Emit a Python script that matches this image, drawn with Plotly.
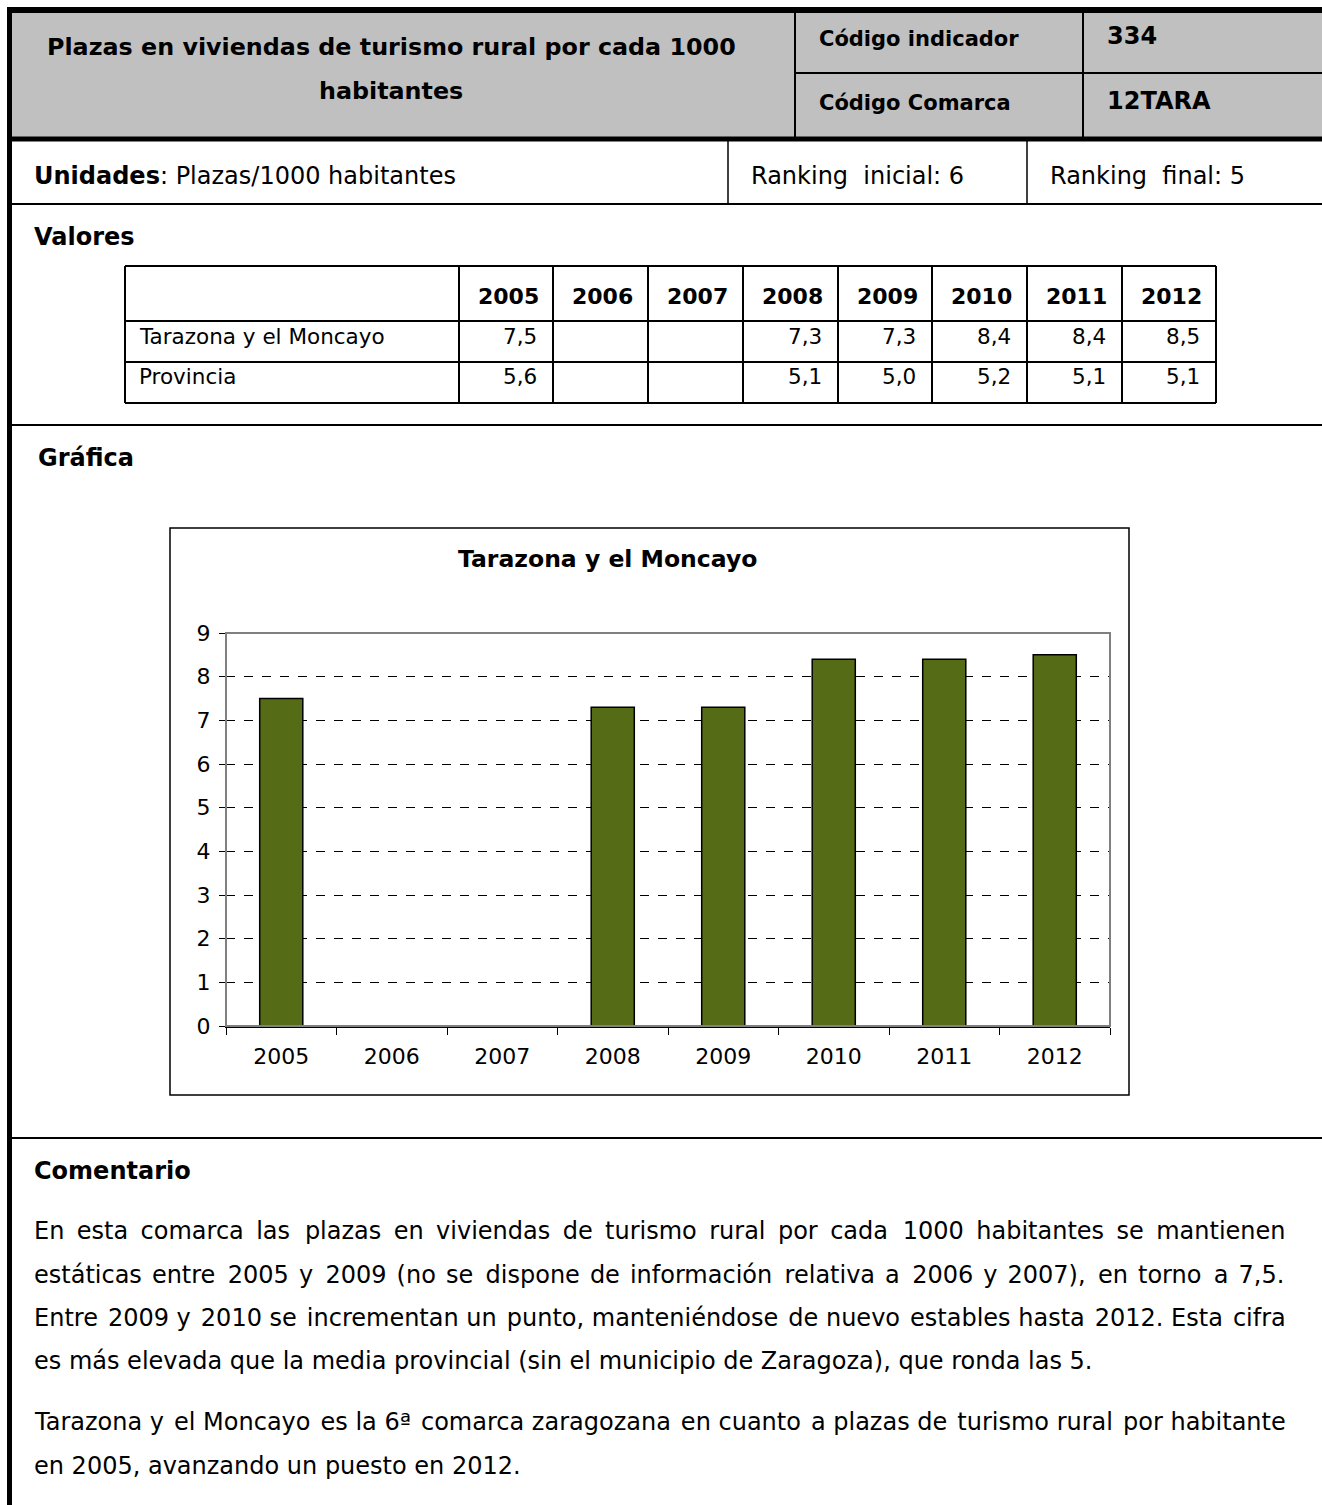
import plotly.graph_objects as go

# ficha del indicador
titulo = ["Plazas en viviendas de turismo rural por cada 1000", "habitantes"]
codigo_indicador = "334"
codigo_comarca = "12TARA"
unidades = "Plazas/1000 habitantes"
ranking_inicial = 6
ranking_final = 5

# valores
years = ["2005", "2006", "2007", "2008", "2009", "2010", "2011", "2012"]
tarazona = [7.5, None, None, 7.3, 7.3, 8.4, 8.4, 8.5]
provincia = [5.6, None, None, 5.1, 5.0, 5.2, 5.1, 5.1]
comarca = "Tarazona y el Moncayo"
y_ticks = [0, 1, 2, 3, 4, 5, 6, 7, 8, 9]

comentario = [
    "En esta comarca las plazas en viviendas de turismo rural por cada 1000 habitantes se mantienen",
    "estáticas entre 2005 y 2009 (no se dispone de información relativa a 2006 y 2007), en torno a 7,5.",
    "Entre 2009 y 2010 se incrementan un punto, manteniéndose de nuevo estables hasta 2012. Esta cifra",
    "es más elevada que la media provincial (sin el municipio de Zaragoza), que ronda las 5.",
    "Tarazona y el Moncayo es la 6ª comarca zaragozana en cuanto a plazas de turismo rural por habitante",
    "en 2005, avanzando un puesto en 2012.",
]
# espacio extra (px) para justificar cada línea
justify_extra = [76.8, 60, 19.2, 0, 16.8, 0]

W, H = 1322, 1505
FONT = "DejaVu Sans"
GRAY = "#C0C0C0"
BAR = "#556B15"
BODY = 24


def px(x):
    return x / W


def py(y):
    return 1 - y / H


shapes = []
annotations = []


def rect(x0, y0, x1, y1, fill=None, line_color=None, width=0, layer="below"):
    shapes.append(dict(
        type="rect", xref="paper", yref="paper",
        x0=px(x0), x1=px(x1), y0=py(y1), y1=py(y0),
        fillcolor=fill if fill else "rgba(0,0,0,0)",
        line=dict(color=line_color if line_color else "rgba(0,0,0,0)", width=width),
        layer=layer,
    ))


def line(x0, y0, x1, y1, width=2, color="black", layer="above"):
    shapes.append(dict(
        type="line", xref="paper", yref="paper",
        x0=px(x0), x1=px(x1), y0=py(y0), y1=py(y1),
        line=dict(color=color, width=width), layer=layer,
    ))


def text(x, y, s, size=BODY, anchor="left", bold=False, color="black"):
    if bold:
        s = "<b>" + s + "</b>"
    if anchor == "left":
        x -= 3  # compensa el relleno de la caja de la anotación
    annotations.append(dict(
        x=px(x), y=py(y), xref="paper", yref="paper", text=s,
        showarrow=False, xanchor=anchor, yanchor="middle",
        font=dict(family=FONT, size=size, color=color),
    ))


def justify(s, extra_px, size):
    # reparte espacios finos (hair space) entre las palabras
    words = s.split(" ")
    gaps = len(words) - 1
    n = round(extra_px / (0.1 * size))
    out = words[0]
    for j in range(gaps):
        k = round((j + 1) * n / gaps) - round(j * n / gaps)
        out += " " + "\u200a" * k + words[j + 1]
    return out


# cabecera
rect(12, 13, W + 5, 137, fill=GRAY)
line(7, 10, W + 5, 10, width=6)
line(9.5, 7, 9.5, H + 5, width=5)
line(795, 13, 795, 137, width=2)
line(1083, 13, 1083, 137, width=2)
line(795, 73, W + 5, 73, width=2)
line(12, 139, W + 5, 139, width=5)
text(391, 47, titulo[0], size=23.8, anchor="center", bold=True)
text(391, 91, titulo[1], size=23.8, anchor="center", bold=True)
text(820, 39, "Código indicador", size=21, bold=True)
text(1108, 36, codigo_indicador, size=24, bold=True)
text(820, 103, "Código Comarca", size=21, bold=True)
text(1108, 101, codigo_comarca, size=24, bold=True)

# unidades / ranking
line(728, 141, 728, 204, width=1.5)
line(1027, 141, 1027, 204, width=1.5)
line(12, 204, W + 5, 204, width=2)
text(35, 176, "<b>Unidades</b>: " + unidades)
text(752, 176, "Ranking&nbsp; inicial: %d" % ranking_inicial)
text(1051, 176, "Ranking&nbsp; final: %d" % ranking_final)

# tabla de valores
text(35, 237, "Valores", bold=True)
col_edges = [125, 459, 553, 648, 743, 838, 932, 1027, 1122, 1216]
row_edges = [266, 321, 362, 403]
for xe in col_edges:
    line(xe, row_edges[0], xe, row_edges[-1], width=2)
for ye in row_edges:
    line(col_edges[0], ye, col_edges[-1], ye, width=2)


def fmt(v):
    return "" if v is None else ("%.1f" % v).replace(".", ",")


TAB = 21.5
for i, yr in enumerate(years):
    xc = (col_edges[i + 1] + col_edges[i + 2]) / 2
    text(xc + 2, 296, yr, size=22, anchor="center", bold=True)
    text(col_edges[i + 2] - 14, 337, fmt(tarazona[i]), size=TAB, anchor="right")
    text(col_edges[i + 2] - 14, 377, fmt(provincia[i]), size=TAB, anchor="right")
text(140, 337, comarca, size=TAB)
text(140, 377, "Provincia", size=TAB)

line(12, 425, W + 5, 425, width=2)

# gráfica
text(39, 458, "Gráfica", bold=True)
rect(170, 528, 1129, 1095, fill="white", line_color="black", width=1.5)
text(607, 559, comarca, size=23.5, anchor="center", bold=True)
# borde gris del área de trazado
rect(226, 633, 1110, 1026, line_color="#808080", width=2, layer="above")

line(12, 1138, W + 5, 1138, width=2)

# comentario
text(35, 1171, "Comentario", bold=True)
line_y = [1231, 1275, 1318, 1361, 1422, 1466]
for s, yy, ex in zip(comentario, line_y, justify_extra):
    text(35, yy, justify(s, ex, BODY))

fig = go.Figure()
fig.add_trace(go.Bar(
    x=years, y=tarazona, width=0.39,
    marker=dict(color=BAR, line=dict(color="black", width=1.5)),
    hoverinfo="x+y",
))

fig.update_layout(
    width=W, height=H,
    margin=dict(l=0, r=0, t=0, b=0, pad=0, autoexpand=False),
    paper_bgcolor="white",
    plot_bgcolor=GRAY,
    showlegend=False,
    shapes=shapes,
    annotations=annotations,
    font=dict(family=FONT, size=BODY, color="black"),
    xaxis=dict(
        domain=[px(226), px(1110)],
        type="category",
        automargin=False,
        tickson="boundaries",
        ticks="outside", ticklen=7, tickcolor="black", tickwidth=1,
        showline=True, linecolor="black", linewidth=2,
        showgrid=False,
        tickfont=dict(family=FONT, size=22),
        ticklabelstandoff=10,
        fixedrange=True,
    ),
    yaxis=dict(
        domain=[py(1026), py(633)],
        range=[0, 9],
        automargin=False,
        tickvals=y_ticks,
        ticks="outside", ticklen=6, tickcolor="black", tickwidth=1,
        showline=True, linecolor="black", linewidth=1,
        showgrid=True, gridcolor="black", gridwidth=1, griddash="dash",
        zeroline=False,
        tickfont=dict(family=FONT, size=22),
        ticklabelstandoff=4,
        fixedrange=True,
    ),
)

# página sin márgenes: la figura ocupa la ventana
fig.write_html(
    "out.html",
    config={"displayModeBar": False},
    post_script=(
        "document.body.style.margin='0';"
        "document.documentElement.style.overflow='hidden';"
    ),
)
